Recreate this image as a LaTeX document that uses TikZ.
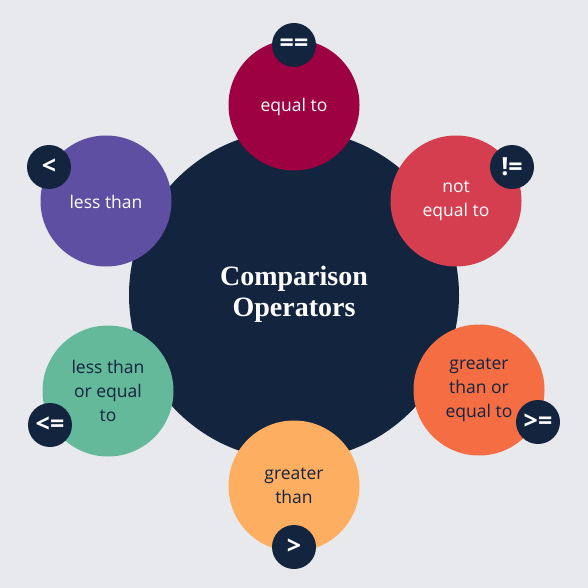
\documentclass[tikz,border=0pt]{standalone}
\usepackage{fontspec}
\setmainfont{Open Sans}
\newfontfamily\titlefont{Liberation Serif}
\usetikzlibrary{positioning}

\definecolor{bgcol}{HTML}{E8E9EC}
\definecolor{navy}{HTML}{13243F}
\definecolor{crimson}{HTML}{9E0142}
\definecolor{rosered}{HTML}{D53E4F}
\definecolor{tangerine}{HTML}{F46D43}
\definecolor{apricot}{HTML}{FDAE61}
\definecolor{seagreen}{HTML}{63B99A}
\definecolor{violet}{HTML}{5E4FA2}

\begin{document}
\begin{tikzpicture}[x=1pt,y=-1pt,
		every node/.style={font=\fontsize{17.5}{24}\selectfont, align=center},
		hub/.style={circle, fill=navy, minimum size=330pt, inner sep=0pt},
		petal/.style={circle, minimum size=131pt, inner sep=0pt},
		badge/.style={circle, fill=navy, minimum size=44pt, inner sep=0pt, text=white,
			font=\fontsize{25}{25}\selectfont\bfseries}]
		\fill[bgcol] (0,0) rectangle (588,588);
		\useasboundingbox (0,0) rectangle (588,588);
		% centre
		\node[hub] (hub) at (294,295) {};
		\node[text=white, font=\titlefont\fontsize{28}{31}\selectfont\bfseries] (title) at (294,294) {Comparison\\Operators};
		% petals
		\node[petal, fill=crimson, text=white] (eq) at (294,105) {};
		\node[text=white] (eqtext) at (294,107) {equal to};
		\node[petal, fill=rosered, text=white] (ne) at (456,201) {not\\equal to};
		\node[petal, fill=tangerine, text=navy] (gte) at (479,390) {greater\\than or\\equal to};
		\node[petal, fill=apricot, text=navy] (gt) at (294,486) {greater\\than};
		\node[petal, fill=seagreen, text=navy] (lte) at (108,391) {less than\\or equal\\to};
		\node[petal, fill=violet, text=white] (lt) at (106,201) {};
		\node[text=white] (lttext) at (106,202) {less than};
		% badges
		\node[badge] (beq) at (294,45) {==};
		\node[badge] (bne) at (512,167) {!=};
		\node[badge] (bgte) at (538,422) {>=};
		\node[badge] (bgt) at (294,547) {>};
		\node[badge] (blte) at (50,425) {<=};
		\node[badge] (blt) at (49,167) {<};
	\end{tikzpicture}
\end{document}
